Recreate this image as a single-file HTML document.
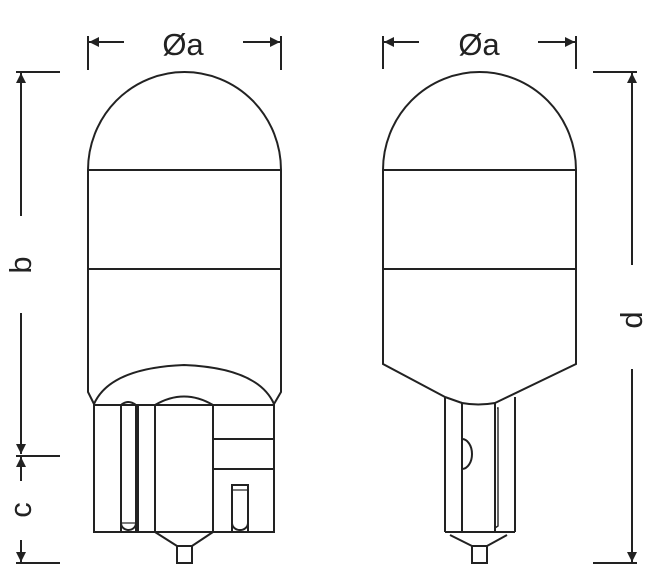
<!DOCTYPE html>
<html><head><meta charset="utf-8"><style>
html,body{margin:0;padding:0;background:#fff;width:654px;height:586px;overflow:hidden}
svg{display:block}
text{font-family:"Liberation Sans",sans-serif;fill:#222}
</style></head><body>
<svg width="654" height="586" viewBox="0 0 654 586" xmlns="http://www.w3.org/2000/svg">
<defs>
<marker id="ar" viewBox="0 0 10 10" refX="10" refY="5" markerWidth="10" markerHeight="10" markerUnits="userSpaceOnUse" orient="auto"><path d="M0,0 L10,5 L0,10 Z" fill="#222"/></marker>
</defs>
<g stroke="#222" stroke-width="2" fill="none">
<!-- top dims left -->
<line x1="88" y1="36" x2="88" y2="70"/><line x1="281" y1="36" x2="281" y2="70"/>
<line x1="124" y1="42" x2="89" y2="42" marker-end="url(#ar)"/>
<line x1="243" y1="42" x2="280" y2="42" marker-end="url(#ar)"/>
<!-- top dims right -->
<line x1="383" y1="36" x2="383" y2="69"/><line x1="576" y1="36" x2="576" y2="69"/>
<line x1="419" y1="42" x2="384" y2="42" marker-end="url(#ar)"/>
<line x1="538" y1="42" x2="575" y2="42" marker-end="url(#ar)"/>
<!-- b / c dims -->
<line x1="16" y1="72" x2="60" y2="72"/>
<line x1="21" y1="216" x2="21" y2="73" marker-end="url(#ar)"/>
<line x1="21" y1="313" x2="21" y2="454" marker-end="url(#ar)"/>
<line x1="16" y1="456" x2="60" y2="456"/>
<line x1="21" y1="481" x2="21" y2="457" marker-end="url(#ar)"/>
<line x1="21" y1="540" x2="21" y2="562" marker-end="url(#ar)"/>
<line x1="16" y1="563" x2="60" y2="563"/>
<!-- d dim -->
<line x1="593" y1="72" x2="637" y2="72"/>
<line x1="632" y1="265" x2="632" y2="73" marker-end="url(#ar)"/>
<line x1="632" y1="369" x2="632" y2="562" marker-end="url(#ar)"/>
<line x1="593" y1="563" x2="637" y2="563"/>

<!-- left bulb -->
<path d="M88,170 A96.5,98 0 0 1 281,170"/>
<line x1="88" y1="170" x2="281" y2="170"/>
<line x1="88" y1="269" x2="281" y2="269"/>
<path d="M88,170 L88,392 L94,404"/>
<path d="M281,170 L281,392 L274,404"/>
<path d="M94,404 Q110,368 184,365 Q258,368 274,404"/>
<rect x="94" y="405" width="180" height="127"/>
<path d="M121,532 L121,405 Q128,399 136,405 L136,532"/>
<path d="M121,523 A7.5,7 0 0 0 136,523" />
<line x1="121" y1="523" x2="136" y2="523" stroke-width="1.2"/>
<line x1="138" y1="405" x2="138" y2="532"/>
<path d="M155,532 L155,405 Q184,388 213,405 L213,532"/>
<line x1="213" y1="439" x2="274" y2="439"/>
<line x1="213" y1="469" x2="274" y2="469"/>
<path d="M232,532 L232,485 L248,485 L248,532"/>
<line x1="232" y1="490" x2="248" y2="490" stroke-width="1.2"/>
<path d="M232,523 A8,7 0 0 0 248,523"/>
<path d="M155,532 L177,546 L192,546 L213,532"/>
<rect x="177" y="546" width="15" height="17"/>

<!-- right bulb -->
<path d="M383,170 A96.5,98 0 0 1 576,170"/>
<line x1="383" y1="170" x2="576" y2="170"/>
<line x1="383" y1="269" x2="576" y2="269"/>
<path d="M383,170 L383,364 L445,397"/>
<path d="M576,170 L576,364 L495,403"/>
<line x1="445" y1="397" x2="462" y2="403"/>
<line x1="515" y1="397" x2="515" y2="532"/>
<rect x="445" y="397" width="70" height="135" stroke="none"/>
<line x1="445" y1="397" x2="445" y2="532"/>
<line x1="445" y1="532" x2="515" y2="532"/>
<path d="M462,532 L462,403 Q478,406 495,403 L495,532"/>
<path d="M497,408 L498,408 L498,526 L495,528" stroke-width="1.4"/>
<path d="M462,439 A10,15 0 0 1 462,469"/>
<path d="M450,535 L472,546 M507,535 L487,546"/>
<rect x="472" y="546" width="15" height="17"/>
</g>
<text x="183" y="55" font-size="31" text-anchor="middle">Øa</text>
<text x="479" y="55" font-size="31" text-anchor="middle">Øa</text>
<text transform="translate(31,265) rotate(-90)" font-size="31" text-anchor="middle">b</text>
<text transform="translate(31,510) rotate(-90)" font-size="31" text-anchor="middle">c</text>
<text transform="translate(642,320) rotate(-90)" font-size="31" text-anchor="middle">d</text>
</svg>
</body></html>
